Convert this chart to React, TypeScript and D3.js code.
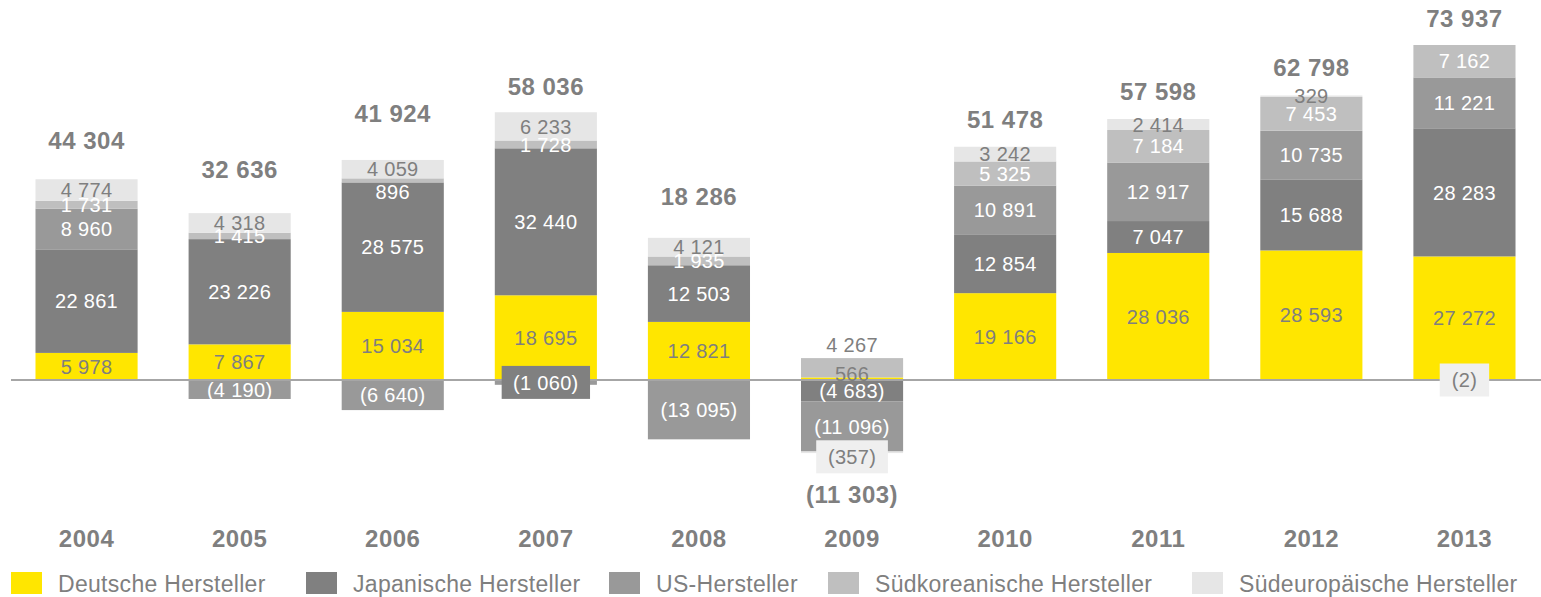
import React from 'react';
import * as d3 from 'd3';

const years = ['2004', '2005', '2006', '2007', '2008', '2009', '2010', '2011', '2012', '2013'];
const deutsche = [5978, 7867, 15034, 18695, 12821, 566, 19166, 28036, 28593, 27272];
const japanische = [22861, 23226, 28575, 32440, 12503, -4683, 12854, 7047, 15688, 28283];
const usHersteller = [8960, -4190, -6640, -1060, -13095, -11096, 10891, 12917, 10735, 11221];
const suedkorea = [1731, 1415, 896, 1728, 1935, 4267, 5325, 7184, 7453, 7162];
const suedeuropa = [4774, 4318, 4059, 6233, 4121, -357, 3242, 2414, 329, -2];
const totals = [44304, 32636, 41924, 58036, 18286, -11303, 51478, 57598, 62798, 73937];

const seriesNames = [
  'Deutsche Hersteller',
  'Japanische Hersteller',
  'US-Hersteller',
  'Südkoreanische Hersteller',
  'Südeuropäische Hersteller',
];
const seriesValues = [deutsche, japanische, usHersteller, suedkorea, suedeuropa];
const colors = ['#FFE600', '#808080', '#999999', '#BFBFBF', '#E6E6E6'];
const labelColors = ['#7f7f7f', '#ffffff', '#ffffff', '#ffffff', '#7f7f7f'];

// layout tweaks (gap between bar end and total label, legend positions)
const totalGap = [30, 35, 38, 17, 33, 50, 19, 19, 19, 18];
const legendX = [11, 306, 609, 828, 1192];

const FONT = '"Liberation Sans", Arial, Helvetica, sans-serif';
const GREY = '#7f7f7f';

const fmt = (v: number) => {
  const s = d3.format(',')(Math.abs(v)).replace(/,/g, ' ');
  return v < 0 ? `(${s})` : s;
};

// rough text width for label boxes
const textWidth = (s: string, size: number) =>
  s.split('').reduce((w, c) => w + (c === ' ' ? 0.278 : c === '(' || c === ')' ? 0.333 : 0.556), 0) * size;

const App = () => {
  const width = 1541;
  const height = 597;

  const rows = years.map((year, i) => {
    const row: any = { year };
    seriesNames.forEach((name, s) => (row[name] = seriesValues[s][i]));
    return row;
  });

  const stacked = d3
    .stack()
    .keys(seriesNames)
    .order(d3.stackOrderNone)
    .offset(d3.stackOffsetDiverging)(rows);

  const x = d3.scaleBand().domain(years).range([10, 1541]).paddingInner(0.333).paddingOuter(0.1665);
  const y = d3.scaleLinear().domain([0, 73937]).range([380, 45]);

  const segments: any[] = [];
  stacked.forEach((layer, s) => {
    layer.forEach((d, i) => {
      const v = seriesValues[s][i];
      const y0 = y(Math.max(d[0], d[1]));
      const y1 = y(Math.min(d[0], d[1]));
      segments.push({ s, i, v, top: y0, h: y1 - y0 });
    });
  });

  const barTop = (i: number) => d3.min(segments.filter((g) => g.i === i), (g) => g.top) as number;
  const barBottom = (i: number) => d3.max(segments.filter((g) => g.i === i), (g) => g.top + g.h) as number;

  return (
    <svg width={width} height={height} style={{ position: 'absolute', left: 0, top: 0, background: '#fff' }}>
      <g>
        {segments.map((g) => (
          <rect
            key={`r-${g.s}-${g.i}`}
            x={x(years[g.i])}
            y={g.top}
            width={x.bandwidth()}
            height={Math.max(g.h, 0.5)}
            fill={colors[g.s]}
          />
        ))}
      </g>
      <line x1={11} x2={width} y1={y(0)} y2={y(0)} stroke="#a6a6a6" strokeWidth={2} />
      <g fontFamily={FONT} fontSize={20} textAnchor="middle">
        {segments.map((g) => {
          const cx = (x(years[g.i]) as number) + x.bandwidth() / 2;
          let cy = g.top + g.h / 2;
          let fill = labelColors[g.s];
          const label = fmt(g.v);
          let box: any = null;
          // small negative segments get a label box
          if (g.v < 0 && g.h < 10) {
            if (g.s === 4 && g.i === 5) cy += 4.5;
            const bw = textWidth(label, 20) + 25;
            box = { x: cx - bw / 2, y: cy - 16.5, w: bw, fill: g.s === 4 ? '#EFEFEF' : '#808080' };
          }
          // 2006 Südkorea label sits inside the Japanese block
          if (g.s === 3 && g.h < 5) cy += 11;
          // 2009 Deutsche: tiny sliver
          if (g.s === 0 && g.h < 5) cy -= 5;
          // 2009 Südkorea label above the bar
          if (g.s === 3 && g.i === 5) {
            cy = g.top - 13;
            fill = GREY;
          }
          return (
            <g key={`l-${g.s}-${g.i}`}>
              {box && <rect x={box.x} y={box.y} width={box.w} height={33} fill={box.fill} />}
              <text x={cx} y={cy} dy="0.36em" fill={fill} letterSpacing={0.3}>
                {label}
              </text>
            </g>
          );
        })}
      </g>
      <g fontFamily={FONT} fontSize={24} fontWeight="bold" fill={GREY} textAnchor="middle" letterSpacing={0.5}>
        {totals.map((t, i) => {
          const cx = (x(years[i]) as number) + x.bandwidth() / 2;
          const ty = t >= 0 ? barTop(i) - totalGap[i] : barBottom(i) + totalGap[i];
          return (
            <text key={`t-${i}`} x={cx} y={ty}>
              {fmt(t)}
            </text>
          );
        })}
        {years.map((yr) => (
          <text key={`y-${yr}`} x={(x(yr) as number) + x.bandwidth() / 2} y={547}>
            {yr}
          </text>
        ))}
      </g>
      <g fontFamily={FONT} fontSize={23} fill={GREY} letterSpacing={0.3}>
        {seriesNames.map((name, s) => (
          <g key={`lg-${s}`} transform={`translate(${legendX[s]},572)`}>
            <rect width={31} height={22} fill={colors[s]} />
            <text x={47} y={20}>
              {name}
            </text>
          </g>
        ))}
      </g>
    </svg>
  );
};

export default App;
